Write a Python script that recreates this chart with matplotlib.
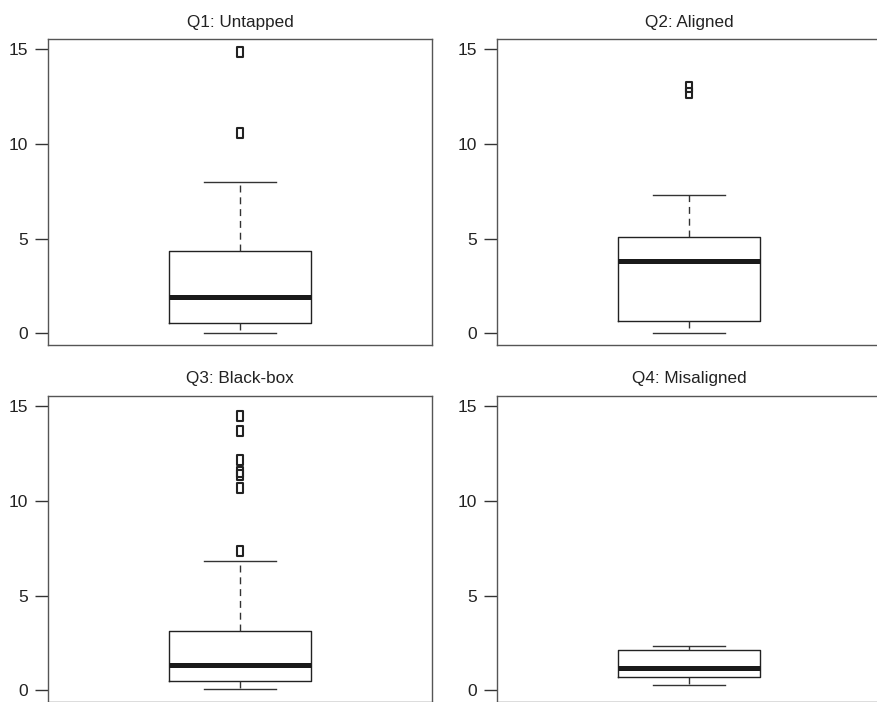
import matplotlib.pyplot as plt
from matplotlib.path import Path

plt.rcParams['font.family'] = ['Liberation Sans', 'DejaVu Sans']

# --- valores ---
titles = ["Q1: Untapped", "Q2: Aligned", "Q3: Black-box", "Q4: Misaligned"]
whislo = [0.0, 0.0, 0.05, 0.30]
q1s = [0.53, 0.65, 0.47, 0.71]
medians = [1.90, 3.82, 1.34, 1.18]
q3s = [4.35, 5.09, 3.14, 2.14]
whishi = [7.99, 7.32, 6.83, 2.34]
fliers = [
    [14.88, 10.60],
    [13.03, 12.68],
    [14.47, 13.72, 12.19, 11.52, 11.40, 10.67, 7.37],
    [],
]
yticks = [0, 5, 10, 15]

# posiciones de los paneles en pixeles (x0, y_top) sobre 878x702
W, H = 878, 702
panel_px = [(48, 39), (497, 39), (48, 396), (497, 396)]
aw, ah = 384, 306

# marcador rectangular tipo R (pch=0 estirado)
rect = Path([(-0.28, -0.5), (0.28, -0.5), (0.28, 0.5), (-0.28, 0.5), (-0.28, -0.5)],
            [Path.MOVETO, Path.LINETO, Path.LINETO, Path.LINETO, Path.CLOSEPOLY])

fig = plt.figure(figsize=(W / 100, H / 100), dpi=100)

for i, (x0, yt) in enumerate(panel_px):
    ax = fig.add_axes([x0 / W, (H - yt - ah) / H, aw / W, ah / H])
    stats = [{
        "med": medians[i], "q1": q1s[i], "q3": q3s[i],
        "whislo": whislo[i], "whishi": whishi[i], "fliers": fliers[i],
    }]
    ax.bxp(stats, positions=[1], widths=0.4, showfliers=True,
           boxprops=dict(color="#222222", linewidth=1.0),
           medianprops=dict(color="#1a1a1a", linewidth=3.6, solid_capstyle="butt"),
           whiskerprops=dict(color="#333333", linewidth=1.0, linestyle=(0, (5, 3.5))),
           capprops=dict(color="#333333", linewidth=1.0),
           capwidths=0.2,
           flierprops=dict(marker=rect, markersize=7, markerfacecolor="none",
                           markeredgecolor="#222222", markeredgewidth=1.5,
                           linestyle="none"))
    ax.set_xlim(0.46, 1.54)
    ax.set_ylim(-0.62, 15.55)
    ax.set_xticks([])
    ax.set_yticks(yticks)
    ax.tick_params(axis="y", length=9.5, width=1.0, pad=5, labelsize=12.5,
                   colors="#333333", labelcolor="#222222")
    for s in ax.spines.values():
        s.set_color("#555555")
        s.set_linewidth(1.0)
    ax.set_title(titles[i], fontsize=12.3, pad=9, color="#222222")

fig.savefig("out.png", dpi=100)
